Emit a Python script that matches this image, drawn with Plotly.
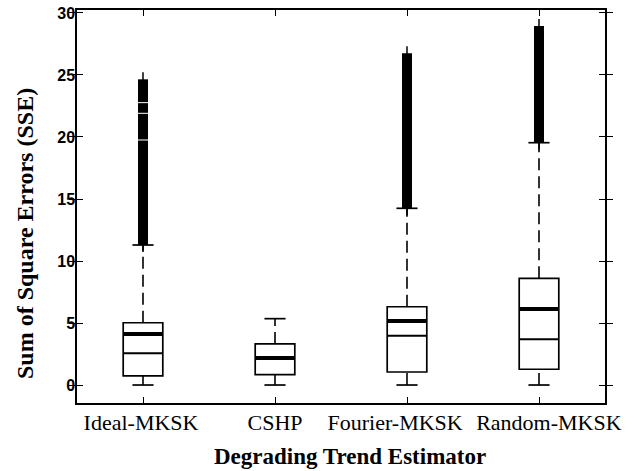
import plotly.graph_objects as go

# ---- data ----
categories = ["Ideal-MKSK", "CSHP", "Fourier-MKSK", "Random-MKSK"]
q1 = [0.73, 0.83, 1.05, 1.27]
medians = [4.11, 2.18, 5.16, 6.13]
q3 = [5.02, 3.31, 6.31, 8.60]
notch_low = [2.56, None, 3.98, 3.69]
lower_whisker = [0.0, 0.0, 0.0, 0.0]
upper_whisker = [11.29, 5.35, 14.25, 19.54]
# dense outlier runs (lo, hi) per estimator
ideal_outlier_runs = [(11.29, 19.72), (19.80, 21.87), (21.95, 22.73), (22.81, 24.65)]
cshp_outlier_runs = []
fourier_outlier_runs = [(14.25, 26.75)]
random_outlier_runs = [(19.54, 28.95)]
outlier_runs = [ideal_outlier_runs, cshp_outlier_runs, fourier_outlier_runs, random_outlier_runs]
y_ticks = [0, 5, 10, 15, 20, 25, 30]

# ---- styles ----
positions = list(range(1, len(categories) + 1))
# small horizontal nudges of the tick labels (the reference spreads the long ones apart)
label_nudge = [-0.015, 0.0, -0.09, 0.075]
label_pos = [p + d for p, d in zip(positions, label_nudge)]
BOX_W = 0.30
CAP_HALF = 0.08
BLACK = "black"
SERIF = "Liberation Serif, Times New Roman, serif"
SANS = "Liberation Sans, Arial, sans-serif"
X_RANGE = [0.5, 4.5]

fig = go.Figure()

for i, p in enumerate(positions):
    # box body
    fig.add_trace(go.Box(
        x=[p], q1=[q1[i]], median=[medians[i]], q3=[q3[i]],
        lowerfence=[q1[i]], upperfence=[q3[i]],
        width=BOX_W, boxpoints=False, whiskerwidth=0,
        fillcolor="rgba(255,255,255,0)",
        line=dict(color=BLACK, width=1.7), showlegend=False, hoverinfo="skip"))
    # dashed whiskers
    fig.add_trace(go.Scatter(x=[p, p], y=[q3[i], upper_whisker[i]], mode="lines",
                             line=dict(color=BLACK, width=1.6, dash="12px,6px"),
                             showlegend=False, hoverinfo="skip"))
    fig.add_trace(go.Scatter(x=[p, p], y=[lower_whisker[i], q1[i]], mode="lines",
                             line=dict(color=BLACK, width=1.6, dash="12px,6px"),
                             showlegend=False, hoverinfo="skip"))
    # whisker caps
    for w in (upper_whisker[i], lower_whisker[i]):
        fig.add_trace(go.Scatter(x=[p - CAP_HALF, p + CAP_HALF], y=[w, w], mode="lines",
                                 line=dict(color=BLACK, width=1.7),
                                 showlegend=False, hoverinfo="skip"))
    # thick median
    fig.add_trace(go.Scatter(x=[p - BOX_W / 2, p + BOX_W / 2], y=[medians[i], medians[i]],
                             mode="lines", line=dict(color=BLACK, width=4),
                             showlegend=False, hoverinfo="skip"))
    # notch line
    if notch_low[i] is not None:
        fig.add_trace(go.Scatter(x=[p - BOX_W / 2, p + BOX_W / 2], y=[notch_low[i], notch_low[i]],
                                 mode="lines", line=dict(color=BLACK, width=2),
                                 showlegend=False, hoverinfo="skip"))
    # outliers (dense '+' markers forming solid runs)
    runs = outlier_runs[i]
    for lo, hi in runs:
        fig.add_trace(go.Scatter(x=[p, p], y=[lo, hi], mode="lines",
                                 line=dict(color=BLACK, width=10),
                                 showlegend=False, hoverinfo="skip"))
    if runs:
        ends = [min(r[0] for r in runs), max(r[1] for r in runs)]
        fig.add_trace(go.Scatter(x=[p, p], y=ends, mode="markers",
                                 marker=dict(symbol="line-ns", size=10,
                                             line=dict(color=BLACK, width=1.5)),
                                 showlegend=False, hoverinfo="skip"))

fig.update_layout(
    width=639, height=471,
    margin=dict(l=77, r=34, t=10, b=68, autoexpand=False),
    paper_bgcolor="white", plot_bgcolor="white",
    showlegend=False,
    xaxis=dict(range=X_RANGE, tickvals=positions, showticklabels=False,
               automargin=False,
               showgrid=False, zeroline=False, showline=True, linecolor=BLACK, linewidth=1.5,
               mirror="allticks", ticks="inside", ticklen=6, tickcolor=BLACK, tickwidth=1.2),
    # label-only axis for the category names
    xaxis2=dict(range=X_RANGE, overlaying="x", anchor="y", side="bottom",
                tickvals=label_pos, ticktext=categories, tickangle=0, automargin=False,
                ticks="", showline=False, showgrid=False, zeroline=False,
                ticklabelstandoff=4,
                tickfont=dict(family=SERIF, size=22, color=BLACK)),
    yaxis=dict(range=[-1.45, 30.24], tickvals=y_ticks, automargin=False,
               showgrid=False, zeroline=False, showline=True, linecolor=BLACK, linewidth=1.5,
               mirror="allticks", ticks="inside", ticklen=6, tickcolor=BLACK, tickwidth=1.2,
               ticklabelstandoff=-3,
               tickfont=dict(family=SANS, size=16, color=BLACK, weight="bold")),
    annotations=[
        dict(text="Degrading Trend Estimator", xref="paper", yref="paper",
             x=(349.5 - 77) / 528, y=-(456 - 403) / 393, xanchor="center", yanchor="middle",
             showarrow=False, font=dict(family=SERIF, size=23, color=BLACK, weight="bold")),
        dict(text="Sum of Square Errors (SSE)", xref="paper", yref="paper",
             x=(25 - 77) / 528, y=(403 - 234) / 393, xanchor="center", yanchor="middle",
             textangle=-90, showarrow=False,
             font=dict(family=SERIF, size=24, color=BLACK, weight="bold")),
    ],
)
# keep the label axis alive with an invisible, empty trace
fig.add_trace(go.Scatter(x=[], y=[], xaxis="x2", yaxis="y", showlegend=False, hoverinfo="skip"))

fig.write_html("out.html", config={"displayModeBar": False},
               post_script="document.body.style.margin='0';document.body.style.overflow='hidden';")
